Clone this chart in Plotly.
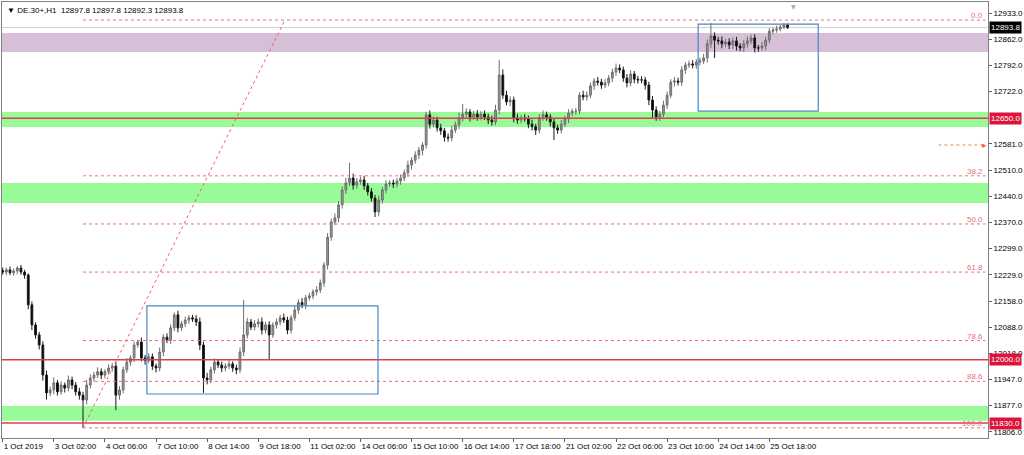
import plotly.graph_objects as go

# ---------------- data ----------------
x_tick_labels = ["1 Oct 2019", "3 Oct 02:00", "4 Oct 06:00", "7 Oct 10:00", "8 Oct 14:00",
                 "9 Oct 18:00", "11 Oct 02:00", "14 Oct 06:00", "15 Oct 10:00", "16 Oct 14:00",
                 "17 Oct 18:00", "21 Oct 02:00", "22 Oct 06:00", "23 Oct 10:00", "24 Oct 14:00",
                 "25 Oct 18:00"]
x_tick_bars = [0, 14, 28, 42, 56, 70, 84, 98, 112, 126, 140, 154, 168, 182, 196, 210]

y_tick_values = [12933, 12862, 12792, 12722, 12581, 12510, 12440, 12370, 12299, 12229,
                 12158, 12088, 12018, 11947, 11877, 11806]

first_open = 12240
close = [
    12236, 12242, 12234, 12239, 12247, 12236, 12228, 12148, 12094, 12067,
    12040, 11959, 11911, 11919, 11938, 11914, 11932, 11924, 11946, 11932,
    11914, 11905, 11892, 11932, 11951, 11959, 11968, 11959, 11968, 11978,
    11983, 11905, 11919, 11973, 11994, 12005, 12040, 12048, 12005, 11999,
    12008, 11983, 11978, 12021, 12061, 12053, 12086, 12121, 12086, 12097,
    12107, 12113, 12110, 12102, 12040, 11951, 11946, 11973, 11994, 11986,
    11978, 11983, 11989, 11978, 11973, 12021, 12067, 12102, 12088, 12097,
    12102, 12080, 12094, 12067, 12094, 12102, 12113, 12107, 12080, 12113,
    12134, 12154, 12148, 12167, 12172, 12183, 12188, 12207, 12255, 12330,
    12371, 12382, 12417, 12457, 12476, 12489, 12470, 12479, 12484, 12468,
    12452, 12435, 12398, 12430, 12457, 12473, 12476, 12473, 12481, 12489,
    12503, 12524, 12537, 12551, 12564, 12578, 12659, 12634, 12645, 12624,
    12616, 12599, 12597, 12618, 12632, 12651, 12661, 12667, 12653, 12661,
    12653, 12661, 12653, 12645, 12640, 12672, 12766, 12712, 12694, 12699,
    12651, 12645, 12651, 12648, 12634, 12627, 12618, 12651, 12659, 12653,
    12640, 12624, 12618, 12634, 12648, 12664, 12669, 12669, 12712, 12707,
    12712, 12737, 12750, 12747, 12739, 12745, 12758, 12774, 12785, 12780,
    12758, 12745, 12769, 12755, 12753, 12753, 12739, 12699, 12672, 12653,
    12661, 12685, 12712, 12747, 12750, 12747, 12780, 12793, 12796, 12793,
    12801, 12804, 12812, 12850, 12871, 12860, 12858, 12850, 12855, 12847,
    12858, 12844, 12839, 12850, 12858, 12866, 12839, 12839, 12844, 12860,
    12884, 12887, 12890, 12895, 12901, 12894,
]
up_wick = [
    8, 6, 9, 7, 5, 8, 6, 5, 9, 7,
    8, 10, 12, 9, 15, 8, 10, 7, 12, 9,
    8, 11, 9, 14, 10, 8, 12, 9, 7, 10,
    8, 12, 10, 9, 11, 7, 9, 6, 12, 8,
    10, 9, 7, 12, 8, 10, 9, 6, 11, 8,
    9, 7, 8, 10, 12, 9, 14, 8, 10, 7,
    9, 8, 10, 7, 9, 12, 94, 11, 8, 10,
    9, 12, 8, 10, 7, 9, 8, 11, 9, 8,
    10, 9, 12, 8, 9, 7, 10, 9, 8, 11,
    9, 12, 10, 9, 14, 41, 12, 10, 9, 11,
    8, 10, 9, 12, 8, 10, 7, 9, 8, 10,
    9, 12, 8, 10, 9, 7, 8, 12, 10, 9,
    11, 8, 10, 12, 9, 14, 27, 10, 8, 9,
    11, 8, 10, 9, 12, 14, 41, 15, 12, 10,
    9, 11, 8, 10, 9, 12, 8, 10, 12, 9,
    8, 10, 9, 11, 8, 10, 7, 9, 8, 12,
    10, 9, 8, 11, 9, 10, 8, 9, 12, 10,
    9, 11, 10, 8, 9, 10, 8, 9, 11, 10,
    9, 12, 10, 8, 11, 9, 10, 8, 9, 10,
    8, 9, 11, 12, 35, 10, 9, 12, 8, 10,
    9, 11, 8, 10, 12, 9, 10, 8, 11, 9,
    8, 7, 9, 6, 5, 4,
]
dn_wick = [
    7, 9, 6, 8, 9, 7, 10, 12, 14, 10,
    12, 15, 18, 9, 12, 10, 8, 12, 9, 11,
    10, 12, 75, 12, 9, 10, 8, 11, 9, 8,
    10, 40, 12, 9, 8, 10, 11, 7, 9, 12,
    8, 10, 12, 9, 11, 8, 10, 9, 12, 8,
    9, 10, 8, 11, 14, 40, 12, 9, 10, 8,
    11, 9, 8, 10, 12, 9, 11, 10, 8, 9,
    10, 12, 9, 67, 8, 10, 9, 8, 11, 9,
    8, 10, 9, 12, 8, 9, 10, 8, 11, 12,
    10, 9, 12, 10, 11, 9, 12, 10, 8, 11,
    10, 9, 14, 12, 10, 9, 8, 11, 9, 10,
    8, 10, 12, 9, 11, 14, 10, 12, 9, 10,
    11, 12, 10, 9, 8, 11, 10, 9, 12, 8,
    10, 9, 8, 11, 10, 9, 12, 10, 9, 11,
    12, 10, 9, 8, 11, 10, 13, 9, 8, 10,
    12, 33, 10, 9, 8, 11, 9, 10, 8, 9,
    10, 8, 11, 9, 10, 8, 9, 11, 10, 9,
    10, 12, 9, 11, 10, 9, 12, 14, 21, 10,
    11, 9, 10, 8, 12, 9, 10, 11, 8, 9,
    10, 9, 8, 12, 11, 48, 10, 12, 9, 11,
    10, 12, 9, 11, 10, 9, 12, 10, 8, 11,
    9, 8, 7, 6, 5, 4,
]

support_lines = [12650.0, 12000.0, 11830.0]
green_zones = [(12626, 12667), (12422, 12476), (11836, 11876)]
purple_zone = (12828, 12879)
fib_low, fib_high = 11817, 12914
fib_ratios = [0.0, 38.2, 50.0, 61.8, 78.6, 88.6, 100.0]
last_price = 12893.8
alert_price = 12578
title_text = "▼ DE.30+,H1  12897.8 12897.8 12892.3 12893.8"

# ---------------- derived OHLC ----------------
bars = list(range(len(close)))
opens = [first_open] + close[:-1]
highs = [max(o, c) + u for o, c, u in zip(opens, close, up_wick)]
lows = [min(o, c) - d for o, c, d in zip(opens, close, dn_wick)]

FONT = "Liberation Sans, Arial, sans-serif"
RED = "#DC3C50"
FIB = "#E8707C"
BLUE = "#4A86BE"

fig = go.Figure()
fig.add_trace(go.Candlestick(
    x=bars, open=opens, high=highs, low=lows, close=close,
    increasing=dict(line=dict(color="#6E6E6E", width=1), fillcolor="#9A9A9A"),
    decreasing=dict(line=dict(color="#1A1A1A", width=1), fillcolor="#000000"),
    whiskerwidth=0, hoverinfo="skip", showlegend=False,
))

shapes = []
# zones
shapes.append(dict(type="rect", xref="paper", x0=0, x1=1, yref="y",
                   y0=purple_zone[0], y1=purple_zone[1],
                   fillcolor="#D8BFD8", line=dict(width=0), layer="below"))
for lo, hi in green_zones:
    shapes.append(dict(type="rect", xref="paper", x0=0, x1=1, yref="y", y0=lo, y1=hi,
                       fillcolor="#98FB98", line=dict(width=0), layer="below"))
# bid line
shapes.append(dict(type="line", xref="paper", x0=0, x1=1, yref="y", y0=last_price, y1=last_price,
                   line=dict(color="#D0D0D0", width=1), layer="below"))
# support / resistance lines
for lv in support_lines:
    shapes.append(dict(type="line", xref="paper", x0=0, x1=1, yref="y", y0=lv, y1=lv,
                       line=dict(color=RED, width=1.5), layer="above"))
# fibonacci
fib_x0, fib_x1 = 22, 77.3
annotations = []
for r in fib_ratios:
    lv = fib_high - r / 100.0 * (fib_high - fib_low)
    shapes.append(dict(type="line", xref="x", x0=fib_x0, x1=269.2, yref="y", y0=lv, y1=lv,
                       line=dict(color=FIB, width=1, dash="dot"), layer="above"))
    annotations.append(dict(xref="paper", x=0.997, yref="y", y=lv, text=f"{r:.1f}",
                            showarrow=False, xanchor="right", yanchor="bottom", yshift=-2,
                            font=dict(family=FONT, size=8, color=FIB)))
shapes.append(dict(type="line", xref="x", x0=fib_x0, x1=fib_x1, yref="y", y0=fib_low, y1=fib_high,
                   line=dict(color="#F06060", width=1, dash="dot"), layer="above"))
# rectangles
shapes.append(dict(type="rect", xref="x", x0=39.5, x1=102.8, yref="y", y0=11908, y1=12145,
                   line=dict(color=BLUE, width=1.2), fillcolor="rgba(0,0,0,0)", layer="above"))
shapes.append(dict(type="rect", xref="x", x0=190.5, x1=223.4, yref="y", y0=12669, y1=12903,
                   line=dict(color=BLUE, width=1.2), fillcolor="rgba(0,0,0,0)", layer="above"))
# alert line
shapes.append(dict(type="line", xref="x", x0=256.3, x1=268.8, yref="y", y0=alert_price, y1=alert_price,
                   line=dict(color="#FF8040", width=1, dash="dot"), layer="above"))
annotations.append(dict(xref="paper", x=1.0, yref="y", y=alert_price, text="▸", showarrow=False,
                        xanchor="right", yanchor="middle", xshift=1,
                        font=dict(family="DejaVu Sans", size=9, color="#FF6030")))

# price labels on the axis
for val, bg in [(last_price, "#000000"), (12650.0, "#DC143C"), (12000.0, "#DC143C"), (11830.0, "#DC143C")]:
    annotations.append(dict(xref="paper", x=1.0, yref="y", y=val, text=f"{val:.1f}",
                            showarrow=False, xanchor="left", yanchor="middle", xshift=1,
                            bgcolor=bg, borderpad=1,
                            font=dict(family=FONT, size=8, color="#FFFFFF")))

# title
annotations.append(dict(xref="paper", x=0, yref="paper", y=1, text=title_text, showarrow=False,
                        xanchor="left", yanchor="top", xshift=3, yshift=-2,
                        font=dict(family=FONT, size=8, color="#000000")))
# chart shift marker
annotations.append(dict(xref="x", x=216.5, yref="paper", y=1, text="▼", showarrow=False,
                        xanchor="center", yanchor="top", yshift=1,
                        font=dict(family="DejaVu Sans", size=6, color="#A8A8A8")))

fig.update_layout(
    width=1024, height=455,
    margin=dict(l=2, r=36, t=2, b=17, autoexpand=False),
    paper_bgcolor="#FFFFFF", plot_bgcolor="#FFFFFF",
    shapes=shapes, annotations=annotations,
    showlegend=False,
    xaxis=dict(range=[-0.19, 269.9], rangeslider=dict(visible=False),
               tickvals=x_tick_bars, ticktext=x_tick_labels,
               ticklabelposition="outside right", tickangle=0, automargin=False,
               ticks="outside", ticklen=3, tickcolor="#606060",
               showgrid=False, zeroline=False,
               showline=True, linecolor="#808080", mirror=True,
               tickfont=dict(family=FONT, size=8, color="#000000")),
    yaxis=dict(range=[11789.7, 12962.6], side="right", automargin=False,
               tickvals=y_tick_values, ticktext=[f"{v:.1f}" for v in y_tick_values],
               ticks="outside", ticklen=3, tickcolor="#606060",
               showgrid=False, zeroline=False,
               showline=True, linecolor="#808080", mirror=True,
               tickfont=dict(family=FONT, size=8, color="#000000")),
)

fig.write_html("out.html", config={"displayModeBar": False},
               post_script="document.body.style.margin='0';document.body.style.overflow='hidden';")
